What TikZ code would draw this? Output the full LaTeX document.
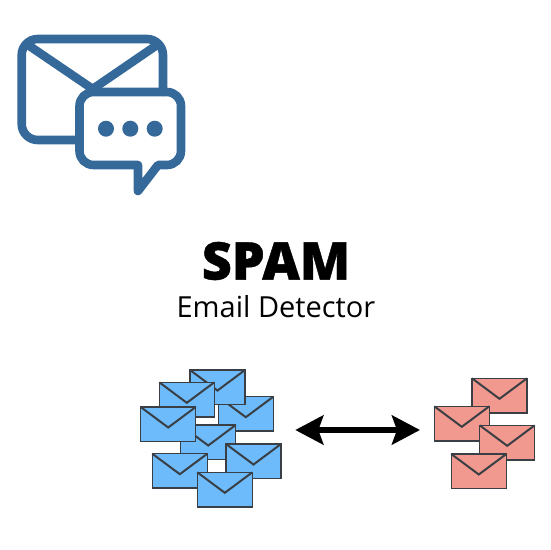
\documentclass[tikz,border=0pt]{standalone}
\usepackage{fontspec}
\setmainfont{Open Sans}
\newfontfamily\heavyfont[FakeBold=0.8]{Open Sans Bold}
\usetikzlibrary{arrows.meta}
\definecolor{iconblue}{HTML}{34699A}
\definecolor{mailblue}{HTML}{6DBBFB}
\definecolor{mailred}{HTML}{F1998E}
\definecolor{mailline}{HTML}{3A3F45}
\tikzset{
  iconline/.style={draw=iconblue,line width=8.6pt,line join=round,line cap=round},
  icondot/.style={fill=iconblue,draw=none},
  mailbody/.style={draw=mailline,line width=1.5pt,line join=miter},
  mailflap/.style={draw=mailline,line width=2pt,line join=miter},
  bothways/.style={draw=black,line width=6.5pt,
    {Stealth[length=28pt,width=29pt,inset=5pt]}-{Stealth[length=28pt,width=29pt,inset=5pt]}},
  titletext/.style={font=\fontsize{52}{56}\selectfont\bfseries,text=black,inner sep=0pt},
  subtext/.style={font=\fontsize{29}{34}\selectfont,text=black,inner sep=0pt}
}
\newcommand{\mailat}[3]{%
  \draw[mailbody,fill=#3] (#1,#2) rectangle ++(55,34.5);
  \draw[mailflap] (#1,#2) -- ++(27.5,20.5) -- ++(27.5,-20.5);
}
\begin{document}
\begin{tikzpicture}[x=1pt,y=-1pt]
\useasboundingbox (0,0) rectangle (550,550);
% icon: envelope
\draw[iconline] (75,140) -- (37.7,140) arc[start angle=270,end angle=180,x radius=16,y radius=-16]
  -- (21.7,55) arc[start angle=180,end angle=90,x radius=16,y radius=-16]
  -- (147,39) arc[start angle=90,end angle=0,x radius=16,y radius=-16] -- (163,92);
\draw[iconline] (28,45) -- (92.7,89) -- (157,45);
% icon: speech bubble
\draw[iconline] (93.5,92) -- (167,92) arc[start angle=90,end angle=0,x radius=14,y radius=-14]
  -- (181,151) arc[start angle=0,end angle=-90,x radius=14,y radius=-14]
  -- (158,165) -- (138,191) -- (138,165) -- (93.5,165)
  arc[start angle=270,end angle=180,x radius=14,y radius=-14]
  -- (79.5,106) arc[start angle=180,end angle=90,x radius=14,y radius=-14] -- cycle;
\fill[icondot] (106,128.7) circle[radius=8];
\fill[icondot] (130.3,128.7) circle[radius=8];
\fill[icondot] (154.7,128.7) circle[radius=8];
% text
\node[titletext] (title) at (276,261) {\heavyfont SPAM};
\node[subtext] (subtitle) at (276,307) {Email Detector};
% blue envelopes
\mailat{218.3}{396.7}{mailblue}
\mailat{180.7}{425}{mailblue}
\mailat{190}{370}{mailblue}
\mailat{159.3}{382.3}{mailblue}
\mailat{140.7}{407}{mailblue}
\mailat{226}{444}{mailblue}
\mailat{152.3}{453.7}{mailblue}
\mailat{197.3}{472.3}{mailblue}
% red envelopes
\mailat{472}{378.3}{mailred}
\mailat{434.3}{406.3}{mailred}
\mailat{479.7}{425.3}{mailred}
\mailat{451.3}{454}{mailred}
% arrow
\coordinate (arrowleft) at (295.3,430);
\coordinate (arrowright) at (420,430);
\draw[bothways] (arrowleft) -- (arrowright);
\end{tikzpicture}
\end{document}
